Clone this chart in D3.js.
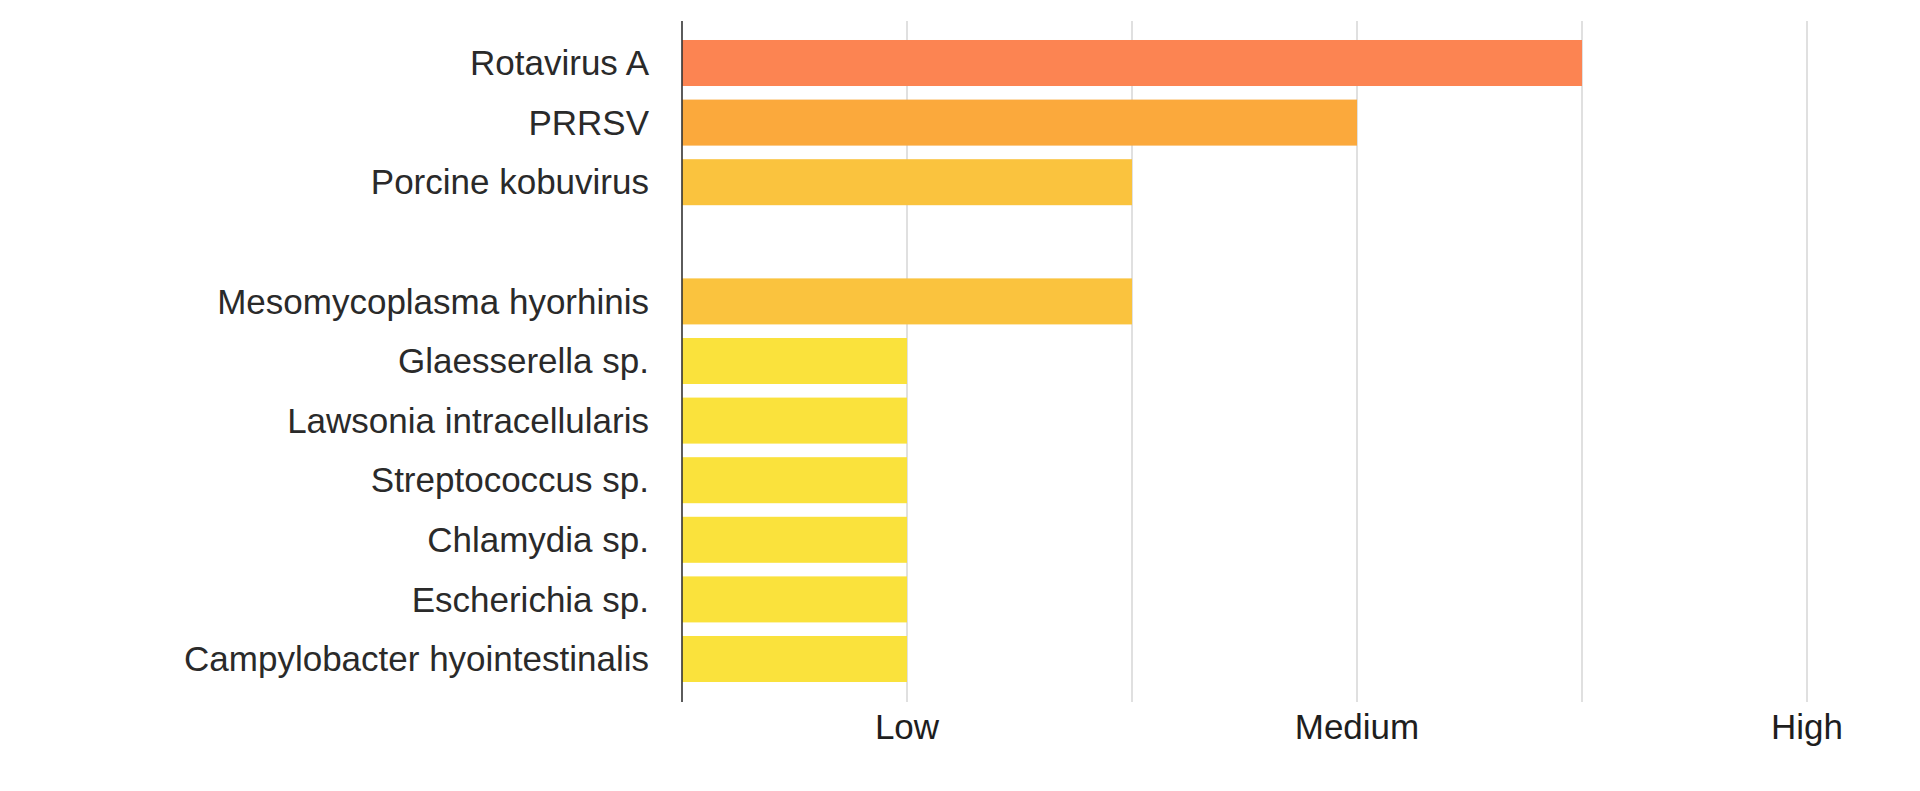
<!DOCTYPE html>
<html>
<head>
<meta charset="utf-8">
<script src="https://cdn.jsdelivr.net/npm/d3@7"></script>
<style>
  body { margin: 0; background: #fff; }
  text { font-family: "Liberation Sans", Arial, Helvetica, sans-serif; }
</style>
</head>
<body>
<div id="chart"></div>
<script>
// categories, top to bottom ('' is the empty gap row between viruses and bacteria)
const pathogens = [
  'Rotavirus A',
  'PRRSV',
  'Porcine kobuvirus',
  '',
  'Mesomycoplasma hyorhinis',
  'Glaesserella sp.',
  'Lawsonia intracellularis',
  'Streptococcus sp.',
  'Chlamydia sp.',
  'Escherichia sp.',
  'Campylobacter hyointestinalis'
]
const levels = [4, 3, 2, null, 2, 1, 1, 1, 1, 1, 1]

const tickValues = [1, 3, 5]
const tickLabels = ['Low', 'Medium', 'High']
const levelColors = ['#fae23c', '#fac33e', '#fba93c', '#fc8452']

const dataset = pathogens.map((name, i) => ({ name: name, level: levels[i] }))

const width = 1920
const height = 791

let svg = d3.select('#chart')
  .append('svg')
  .attr('width', width)
  .attr('height', height)

let xScale = d3.scaleLinear()
  .domain([0, 5])
  .range([682, 1807])

let yScale = d3.scaleBand()
  .domain(pathogens)
  .range([33.2, 33.2 + 11 * 59.6])
  .paddingInner(0.228)
  .paddingOuter(0.114)

let colorScale = d3.scaleOrdinal()
  .domain([1, 2, 3, 4])
  .range(levelColors)

const axisTop = 21
const axisBottom = 702

// vertical grid lines
svg.append('g')
  .selectAll('line')
  .data(d3.range(1, 6))
  .enter()
  .append('line')
  .attr('x1', d => xScale(d))
  .attr('x2', d => xScale(d))
  .attr('y1', axisTop)
  .attr('y2', axisBottom)
  .attr('stroke', '#d6d6d6')
  .attr('stroke-width', 1.5)

// bars
svg.append('g')
  .selectAll('rect')
  .data(dataset.filter(d => d.level != null))
  .enter()
  .append('rect')
  .attr('x', xScale(0))
  .attr('y', d => yScale(d.name))
  .attr('width', d => xScale(d.level) - xScale(0))
  .attr('height', yScale.bandwidth())
  .attr('fill', d => colorScale(d.level))

// y axis line
svg.append('line')
  .attr('x1', xScale(0))
  .attr('x2', xScale(0))
  .attr('y1', axisTop)
  .attr('y2', axisBottom)
  .attr('stroke', '#333')
  .attr('stroke-width', 1.6)

// category labels
svg.append('g')
  .selectAll('text')
  .data(dataset.filter(d => d.name !== ''))
  .enter()
  .append('text')
  .attr('x', xScale(0) - 33)
  .attr('y', d => yScale(d.name) + yScale.bandwidth() / 2)
  .attr('dy', '0.35em')
  .attr('text-anchor', 'end')
  .attr('fill', '#2a2a2a')
  .style('font-size', '35px')
  .text(d => d.name)

// x tick labels
svg.append('g')
  .selectAll('text')
  .data(tickValues)
  .enter()
  .append('text')
  .attr('x', d => xScale(d))
  .attr('y', 739)
  .attr('text-anchor', 'middle')
  .attr('fill', '#1e1e1e')
  .style('font-size', '35px')
  .text((d, i) => tickLabels[i])
</script>
</body>
</html>
